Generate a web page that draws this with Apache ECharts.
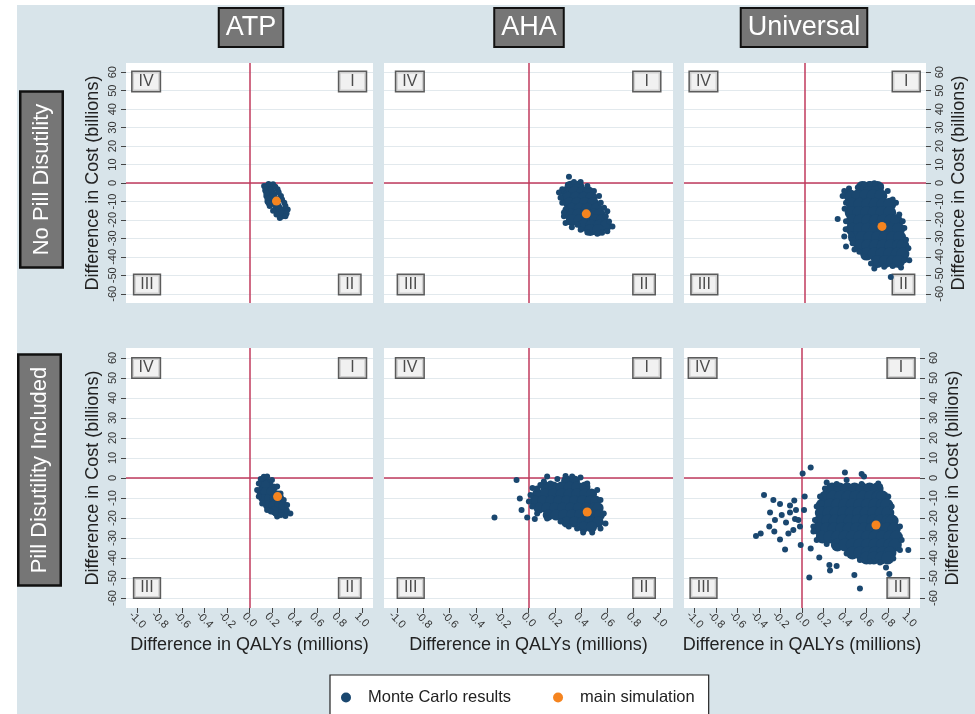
<!DOCTYPE html>
<html>
<head>
<meta charset="utf-8">
<script src="https://cdn.jsdelivr.net/npm/echarts@6/dist/echarts.min.js"></script>
<style>
  html, body { margin: 0; padding: 0; background: #fff; }
  #main { width: 975px; height: 714px; }
</style>
</head>
<body>
<div id="main"></div>
<script>
// tick labels
const xTicks = [-1.0, -0.8, -0.6, -0.4, -0.2, 0.0, 0.2, 0.4, 0.6, 0.8, 1.0];
const yTicks = [-60, -50, -40, -30, -20, -10, 0, 10, 20, 30, 40, 50, 60];
const columnTitles = ['ATP', 'AHA', 'Universal'];
const rowTitles = ['No Pill Disutility', 'Pill Disutility Included'];
const quadrantNames = ['IV', 'I', 'III', 'II'];
const quadrantX = [-0.8, 0.8, -0.8, 0.8];
const quadrantY = [55, 55, -55, -55];

// main simulation (QALYs millions, cost billions)
const mainAtpNoPill = [[0.24, -9.8]];
const mainAhaNoPill = [[0.44, -16.7]];
const mainUniNoPill = [[0.70, -23.5]];
const mainAtpPill = [[0.25, -9.3]];
const mainAhaPill = [[0.447, -17]];
const mainUniPill = [[0.69, -23.5]];

// Monte Carlo results: dense body of each cloud ...
const mcAtpNoPillCore = [[0.17, -2], [0.18, -3.2], [0.19, -4.5], [0.20, -5.8], [0.21, -7], [0.215, -8.2], [0.22, -9.5],
  [0.23, -10.8], [0.24, -12], [0.25, -13], [0.26, -14], [0.27, -15], [0.28, -16], [0.30, -15.5], [0.29, -17.3]];
// ... and the scattered points around it
const mcAtpNoPill = [[0.13, -1.6], [0.14, -4], [0.15, -7], [0.16, -10], [0.18, -12.5], [0.21, -15], [0.24, -17.1], [0.27, -18.9],
  [0.17, -0.5], [0.21, -0.7], [0.25, -3.4], [0.28, -7], [0.31, -10.7], [0.34, -14.4], [0.33, -16.5], [0.32, -18],
  [0.14, -2.5], [0.15, -5.5], [0.16, -8.5], [0.17, -11], [0.23, -2], [0.26, -5], [0.29, -9], [0.32, -12.5]];

const mcAhaNoPillCore = [[0.32, -2], [0.38, -2],
  [0.29, -5], [0.35, -5], [0.41, -5], [0.455, -5],
  [0.30, -8], [0.36, -8], [0.42, -8], [0.48, -8],
  [0.31, -11], [0.37, -11], [0.43, -11], [0.49, -11],
  [0.33, -14], [0.39, -14], [0.45, -14], [0.52, -14],
  [0.32, -17], [0.38, -17], [0.44, -17], [0.50, -17], [0.54, -17],
  [0.33, -20], [0.39, -20], [0.45, -20], [0.51, -20], [0.56, -20],
  [0.42, -23], [0.48, -23], [0.54, -23], [0.59, -23],
  [0.47, -25.5], [0.53, -25.5]];
const mcAhaNoPill = [[0.308, 3.4], [0.257, -3.4], [0.232, -5.2], [0.244, -8], [0.257, -10.7], [0.282, -14.4], [0.27, -18], [0.282, -21.7],
  [0.372, -22.6], [0.397, -25.3], [0.448, -26.8], [0.524, -27.5], [0.6, -26.2], [0.639, -23.5], [0.613, -20.8], [0.588, -18],
  [0.6, -15.3], [0.575, -13.4], [0.55, -10.7], [0.537, -7], [0.498, -4.3], [0.448, -1.6], [0.397, 0.6], [0.346, 0.6],
  [0.30, -1.0], [0.27, -16], [0.33, -24], [0.56, -27]];

const mcUniNoPillCore = [[0.52, -2.5], [0.59, -2.5], [0.66, -2.5],
  [0.41, -7], [0.48, -7], [0.55, -7], [0.62, -7], [0.69, -7],
  [0.43, -11.5], [0.50, -11.5], [0.57, -11.5], [0.64, -11.5], [0.71, -11.5], [0.77, -11.5],
  [0.42, -16], [0.49, -16], [0.56, -16], [0.63, -16], [0.70, -16], [0.77, -16],
  [0.43, -20.5], [0.50, -20.5], [0.57, -20.5], [0.64, -20.5], [0.71, -20.5], [0.78, -20.5], [0.83, -20.5],
  [0.43, -25], [0.50, -25], [0.57, -25], [0.64, -25], [0.71, -25], [0.78, -25], [0.85, -25],
  [0.45, -29.5], [0.52, -29.5], [0.59, -29.5], [0.66, -29.5], [0.73, -29.5], [0.80, -29.5], [0.86, -29.5],
  [0.50, -34], [0.57, -34], [0.64, -34], [0.71, -34], [0.78, -34], [0.85, -34], [0.89, -34],
  [0.56, -38.5], [0.63, -38.5], [0.70, -38.5], [0.77, -38.5], [0.84, -38.5], [0.89, -38.5],
  [0.66, -42.5], [0.73, -42.5], [0.80, -42.5], [0.85, -42.5]];
const mcUniNoPill = [[0.54, -0.7], [0.63, -0.1], [0.59, -0.5], [0.48, -2.5], [0.357, -4.3], [0.342, -7], [0.373, -10.7], [0.36, -14],
  [0.297, -19.5], [0.373, -20.7], [0.37, -25], [0.357, -29], [0.373, -34.4], [0.433, -32.6], [0.494, -37.2], [0.539, -39.9],
  [0.6, -43.6], [0.63, -46.3], [0.72, -45.4], [0.797, -45], [0.873, -45.8], [0.903, -41.8], [0.948, -41.8], [0.94, -35.4],
  [0.918, -30.8], [0.903, -24.4], [0.888, -20.7], [0.857, -17.1], [0.827, -10.7], [0.797, -8.9], [0.752, -4.3], [0.69, -1.6],
  [0.78, -50.9], [0.40, -3], [0.42, -28], [0.45, -36]];

const mcAtpPillCore = [[0.13, -2], [0.17, -2.5], [0.12, -5], [0.17, -5], [0.21, -5],
  [0.11, -8.5], [0.16, -8.5], [0.21, -8.5], [0.25, -8.5],
  [0.14, -12], [0.19, -12], [0.24, -12], [0.28, -12],
  [0.19, -15], [0.24, -15], [0.29, -15], [0.32, -16.5], [0.27, -17.5],
  [0.14, -3.5], [0.10, -6.8], [0.14, -6.8], [0.19, -6.8], [0.12, -10.2], [0.17, -10.2], [0.22, -10.2], [0.27, -10.2],
  [0.16, -13.6], [0.21, -13.6], [0.26, -13.6], [0.30, -13.6], [0.22, -16.4]];
const mcAtpPill = [[0.128, 0.6], [0.157, 0.7], [0.2, -1], [0.246, -4.3], [0.276, -7.7], [0.305, -11], [0.335, -13.5], [0.364, -17.7],
  [0.32, -19], [0.246, -19.3], [0.231, -17.7], [0.157, -16], [0.113, -12.7], [0.083, -9.3], [0.068, -6], [0.083, -2.7],
  [0.10, -0.5], [0.28, -18.5], [0.19, -16.8]];

const mcAhaPillCore = [[0.29, -1.5], [0.35, -1.5],
  [0.13, -4.5], [0.19, -4.5], [0.25, -4.5], [0.31, -4.5], [0.37, -4.5], [0.43, -4.5],
  [0.07, -8], [0.13, -8], [0.19, -8], [0.25, -8], [0.31, -8], [0.37, -8], [0.43, -8], [0.48, -8],
  [0.05, -11.5], [0.11, -11.5], [0.17, -11.5], [0.23, -11.5], [0.29, -11.5], [0.35, -11.5], [0.41, -11.5], [0.47, -11.5], [0.51, -11.5],
  [0.08, -15], [0.14, -15], [0.20, -15], [0.26, -15], [0.32, -15], [0.38, -15], [0.44, -15], [0.50, -15], [0.53, -15],
  [0.15, -18.5], [0.21, -18.5], [0.27, -18.5], [0.33, -18.5], [0.39, -18.5], [0.45, -18.5], [0.51, -18.5], [0.54, -18.5],
  [0.29, -22], [0.35, -22], [0.41, -22], [0.47, -22], [0.53, -22],
  [0.42, -24.5], [0.48, -24.5]];
const mcAhaPill = [[-0.091, -1], [-0.066, -10.2], [-0.053, -16], [-0.01, -19.8], [0.048, -20.5], [-0.259, -19.8], [0.142, 0.7],
  [0.117, -1.8], [0.167, -2.7], [0.282, 1], [0.332, 0.7], [0.396, 0.3], [0.447, -2.7], [0.523, -6], [0.548, -11], [0.573, -17.7],
  [0.586, -22.7], [0.548, -25.2], [0.485, -27.3], [0.416, -27.3], [0.37, -25.2], [0.307, -24.3], [0.244, -21.8], [0.142, -20.2],
  [0.066, -17.7], [0.028, -14.3], [0.003, -11.8], [0.015, -8.5], [0.066, -5.2], [0.22, -0.5], [0.03, -5], [0.09, -3.5]];

const mcUniPillCore = [[0.28, -5.5], [0.35, -5.5], [0.42, -5.5], [0.49, -5.5], [0.56, -5.5], [0.63, -5.5], [0.70, -5.5],
  [0.22, -9.5], [0.29, -9.5], [0.36, -9.5], [0.43, -9.5], [0.50, -9.5], [0.57, -9.5], [0.64, -9.5], [0.71, -9.5], [0.75, -9.5],
  [0.19, -13.5], [0.26, -13.5], [0.33, -13.5], [0.40, -13.5], [0.47, -13.5], [0.54, -13.5], [0.61, -13.5], [0.68, -13.5], [0.75, -13.5], [0.79, -13.5],
  [0.18, -17.5], [0.25, -17.5], [0.32, -17.5], [0.39, -17.5], [0.46, -17.5], [0.53, -17.5], [0.60, -17.5], [0.67, -17.5], [0.74, -17.5], [0.80, -17.5],
  [0.17, -21.5], [0.24, -21.5], [0.31, -21.5], [0.38, -21.5], [0.45, -21.5], [0.52, -21.5], [0.59, -21.5], [0.66, -21.5], [0.73, -21.5], [0.80, -21.5], [0.84, -21.5],
  [0.16, -25.5], [0.23, -25.5], [0.30, -25.5], [0.37, -25.5], [0.44, -25.5], [0.51, -25.5], [0.58, -25.5], [0.65, -25.5], [0.72, -25.5], [0.79, -25.5], [0.86, -25.5],
  [0.19, -29.5], [0.26, -29.5], [0.33, -29.5], [0.40, -29.5], [0.47, -29.5], [0.54, -29.5], [0.61, -29.5], [0.68, -29.5], [0.75, -29.5], [0.82, -29.5], [0.88, -29.5],
  [0.33, -33.5], [0.40, -33.5], [0.47, -33.5], [0.54, -33.5], [0.61, -33.5], [0.68, -33.5], [0.75, -33.5], [0.82, -33.5], [0.87, -33.5],
  [0.47, -37.5], [0.54, -37.5], [0.61, -37.5], [0.68, -37.5], [0.75, -37.5], [0.82, -37.5],
  [0.60, -40], [0.67, -40], [0.74, -40], [0.80, -40]];
const mcUniPill = [[-0.429, -29], [-0.385, -27.7], [-0.354, -8.5], [-0.298, -17.3], [-0.267, -11], [-0.305, -24.3], [-0.252, -21],
  [-0.258, -26.8], [-0.205, -30.7], [-0.205, -13], [-0.189, -18.5], [-0.149, -22.3], [-0.158, -35.7], [-0.127, -27.7], [-0.081, -26],
  [-0.065, -20.5], [-0.112, -17.3], [-0.072, -11.3], [-0.056, -16], [-0.112, -13.8], [-0.034, -21], [-0.019, -24.3], [-0.012, -33.5],
  [0.019, -16], [0.006, 2.3], [0.081, 5.3], [0.068, -49.7], [0.161, -39.7], [0.255, -43.5], [0.261, -46.3], [0.323, -44],
  [0.488, -48.5], [0.54, -55.2], [0.991, -36], [0.783, -44.7], [0.814, -48], [0.40, 2.7], [0.556, 2.0], [0.578, 0.7], [0.711, -2.7],
  [0.081, -35.2], [0.025, -9.3], [0.106, -24.3], [0.183, -12.7],
  [0.23, -2.3], [0.323, -3], [0.416, -1], [0.556, -3], [0.727, -4.3], [0.804, -9.3], [0.836, -14.3], [0.867, -21],
  [0.913, -24.3], [0.929, -31], [0.913, -36], [0.851, -40.2], [0.727, -42.3], [0.634, -41.8], [0.54, -41], [0.416, -37.7],
  [0.323, -34.3], [0.23, -33], [0.137, -31], [0.106, -26.8], [0.121, -21], [0.137, -14.3], [0.168, -9.3], [0.214, -5.2]];

const NAVY = '#1a476f';
const ORANGE = '#f5841f';
const RED = '#c13a5c';
const BG = '#d8e4ea';
const FONT = '"Liberation Sans", Arial, Helvetica, sans-serif';

// plot areas: rows x columns
const rowTop = [63, 348];
const rowHeight = [240, 260];
const colLeft = [126, 384, 684];
const colWidth = [[247, 289, 242], [247, 289, 236]];

const panels = [
  { row: 0, col: 0, core: mcAtpNoPillCore, edge: mcAtpNoPill, main: mainAtpNoPill, coreSize: 9 },
  { row: 0, col: 1, core: mcAhaNoPillCore, edge: mcAhaNoPill, main: mainAhaNoPill, coreSize: 12 },
  { row: 0, col: 2, core: mcUniNoPillCore, edge: mcUniNoPill, main: mainUniNoPill, coreSize: 13 },
  { row: 1, col: 0, core: mcAtpPillCore, edge: mcAtpPill, main: mainAtpPill, coreSize: 9 },
  { row: 1, col: 1, core: mcAhaPillCore, edge: mcAhaPill, main: mainAhaPill, coreSize: 11 },
  { row: 1, col: 2, core: mcUniPillCore, edge: mcUniPill, main: mainUniPill, coreSize: 13 }
];

const grids = [], xAxes = [], yAxes = [], series = [];

panels.forEach((p, i) => {
  grids.push({
    left: colLeft[p.col], top: rowTop[p.row],
    width: colWidth[p.row][p.col], height: rowHeight[p.row],
    show: true, backgroundColor: '#fff', borderWidth: 0
  });
  const bottomRow = p.row === 1;
  xAxes.push({
    gridIndex: i, type: 'value', min: -1.1, max: 1.1, position: 'bottom',
    axisLine: { show: false, onZero: false },
    splitLine: { show: false },
    axisTick: { show: bottomRow, customValues: xTicks, length: 5, lineStyle: { color: '#444' } },
    axisLabel: {
      show: bottomRow, customValues: xTicks, rotate: -45, align: 'center', verticalAlign: 'middle',
      margin: 12, fontSize: 11, color: '#333', fontFamily: FONT,
      formatter: v => v.toFixed(1)
    },
    name: bottomRow ? 'Difference in QALYs (millions)' : '',
    nameLocation: 'middle', nameGap: 28,
    nameTextStyle: { fontSize: 18, color: '#222', fontFamily: FONT }
  });
  const hasY = p.col !== 1;
  yAxes.push({
    gridIndex: i, type: 'value', min: -65, max: 65,
    position: p.col === 2 ? 'right' : 'left',
    axisLine: { show: false, onZero: false },
    axisTick: { show: hasY, customValues: yTicks, length: 5, lineStyle: { color: '#444' } },
    axisLabel: { show: hasY, customValues: yTicks, rotate: 90, margin: 8, fontSize: 11, color: '#333', fontFamily: FONT },
    splitLine: { show: true, lineStyle: { color: '#e2e9ed', width: 1 } },
    name: hasY ? 'Difference in Cost (billions)' : '',
    nameLocation: 'middle', nameRotate: 90, nameGap: 24,
    nameTextStyle: { fontSize: 18, color: '#222', fontFamily: FONT }
  });

  // quadrant boxes + zero lines
  series.push({
    type: 'scatter', name: 'quadrant', xAxisIndex: i, yAxisIndex: i,
    symbolSize: 0, silent: true, z: 2,
    data: quadrantNames.map((t, k) => ({
      name: t, value: [quadrantX[k], quadrantY[k]],
      label: { position: quadrantX[k] < 0 ? 'left' : 'right', padding: t === 'I' ? [1, 11] : [1, 6] }
    })),
    label: {
      show: true, formatter: '{b}', distance: 0, fontSize: 16, lineHeight: 17, color: '#222', fontFamily: FONT,
      backgroundColor: '#eeeeee', borderColor: '#333', borderWidth: 1.5
    },
    markLine: {
      silent: true, symbol: 'none', z: 1, animation: false,
      label: { show: false },
      lineStyle: { color: RED, width: 1.5, type: 'solid' },
      data: [{ xAxis: 0 }, { yAxis: 0 }]
    }
  });
  series.push({
    type: 'scatter', name: 'Monte Carlo results', xAxisIndex: i, yAxisIndex: i,
    data: p.core, symbolSize: p.coreSize, itemStyle: { color: NAVY, opacity: 1 }, z: 3, silent: true
  });
  series.push({
    type: 'scatter', name: 'Monte Carlo results', xAxisIndex: i, yAxisIndex: i,
    data: p.edge, symbolSize: 6, itemStyle: { color: NAVY, opacity: 1 }, z: 3, silent: true
  });
  series.push({
    type: 'scatter', name: 'main simulation', xAxisIndex: i, yAxisIndex: i,
    data: p.main, symbolSize: 9, itemStyle: { color: ORANGE, opacity: 1 }, z: 4, silent: true
  });
});

const colCenter = [251, 529, 804];
const rowCenter = [[41.5, 179.5], [39.5, 470]];

const graphic = [
  { type: 'rect', shape: { x: 17, y: 5, width: 958, height: 709 }, style: { fill: BG }, z: -10, silent: true }
];
columnTitles.forEach((t, k) => {
  graphic.push({
    type: 'text', x: colCenter[k], y: 27.5, z: 5,
    style: {
      text: t, font: '27px ' + FONT, fill: '#fff', align: 'center', verticalAlign: 'middle',
      backgroundColor: '#767676', borderColor: '#111', borderWidth: 2, padding: [5, 6]
    }
  });
});
rowTitles.forEach((t, k) => {
  graphic.push({
    type: 'text', x: rowCenter[k][0], y: rowCenter[k][1], rotation: Math.PI / 2, z: 5,
    style: {
      text: t, font: '22px ' + FONT, fill: '#fff', align: 'center', verticalAlign: 'middle',
      backgroundColor: '#767676', borderColor: '#111', borderWidth: 2.5, padding: [9, 11]
    }
  });
});

const chart = echarts.init(document.getElementById('main'), null, { renderer: 'canvas' });
chart.setOption({
  animation: false,
  backgroundColor: '#fff',
  grid: grids,
  xAxis: xAxes,
  yAxis: yAxes,
  series: series,
  graphic: graphic,
  legend: {
    data: ['Monte Carlo results', 'main simulation'],
    left: 330, top: 675, orient: 'horizontal',
    icon: 'circle', itemWidth: 10, itemHeight: 10, itemGap: 42,
    padding: [14, 14, 16, 11],
    backgroundColor: '#fff', borderColor: '#222', borderWidth: 1.2,
    selectedMode: false,
    textStyle: { fontSize: 16.5, color: '#222', fontFamily: FONT, padding: [0, 0, 0, 12] }
  }
});
</script>
</body>
</html>
